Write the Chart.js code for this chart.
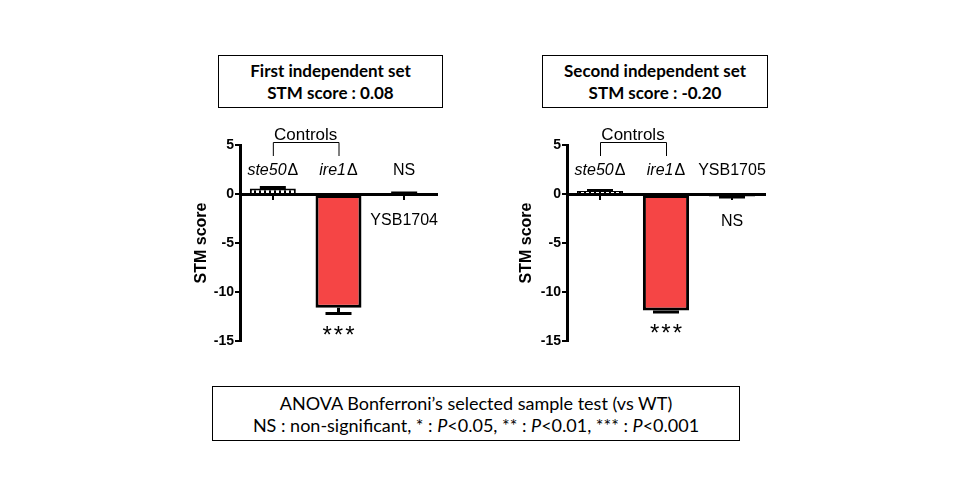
<!DOCTYPE html>
<html lang="en">
<head>
  <meta charset="UTF-8">
  <title>STM score</title>
  <script src="https://cdn.jsdelivr.net/npm/chart.js"></script>
  <style>
    body {
      margin: 0;
      background: #fff;
    }
    .box {
      position: absolute;
      border: 1px solid #000;
      box-sizing: border-box;
      text-align: center;
      font-family: Lato, "Open Sans", sans-serif;
      color: #000;
    }
    .title-box {
      top: 55px;
      height: 53px;
      font-size: 17px;
      font-weight: bold;
      line-height: 22px;
      padding-top: 4px;
    }
    .note-box {
      left: 212px;
      top: 386px;
      width: 528px;
      height: 55px;
      font-size: 18px;
      line-height: 22px;
      padding-top: 5px;
    }
    .chart-wrap {
      position: absolute;
      top: 115px;
      width: 275px;
      height: 245px;
    }
  </style>
</head>
<body>
  <div class="box title-box" style="left:218px; width:225px;">First independent set<br>STM score : 0.08</div>
  <div class="box title-box" style="left:542px; width:226px;">Second independent set<br>STM score : -0.20</div>
  <div class="box note-box">ANOVA Bonferroni’s selected sample test (vs WT)<br>NS : non-significant, * : <i>P</i>&lt;0.05, ** : <i>P</i>&lt;0.01, *** : <i>P</i>&lt;0.001</div>

  <div class="chart-wrap" style="left:185px;"><canvas id="set1Chart" width="275" height="245"></canvas></div>
  <div class="chart-wrap" style="left:510px;"><canvas id="set2Chart" width="275" height="245"></canvas></div>

  <script>
    // values
    const set1Names = ['ste50Δ', 'ire1Δ', 'YSB1704'];
    const set1Values = [0.55, -11.6, 0.05];
    const set1Errors = [0.12, 0.6, 0.05];
    const set1Marks = ['', '***', 'NS'];

    const set2Names = ['ste50Δ', 'ire1Δ', 'YSB1705'];
    const set2Values = [0.3, -11.9, -0.25];
    const set2Errors = [0.05, 0.15, 0.05];
    const set2Marks = ['', '***', 'NS'];

    const controlIdx = [0, 1];
    const yTicks = [-15, -10, -5, 0, 5];

    const FONT = '"Liberation Sans", Arial, sans-serif';

    function dotPattern() {
      const c = document.createElement('canvas');
      c.width = 5; c.height = 5;
      const g = c.getContext('2d');
      g.fillStyle = '#000';
      g.fillRect(0, 0, 5, 5);
      g.fillStyle = '#fff';
      g.fillRect(1, 0, 3, 5);
      return g.createPattern(c, 'repeat');
    }

    // gene names: italic body, upright delta
    function drawName(ctx, name, cx, cy) {
      ctx.textBaseline = 'middle';
      if (!name.endsWith('Δ')) {
        ctx.font = '16px ' + FONT;
        ctx.textAlign = 'center';
        ctx.fillText(name, cx, cy);
        return;
      }
      const body = name.slice(0, -1);
      ctx.font = 'italic 16px ' + FONT;
      const wb = ctx.measureText(body).width;
      ctx.font = '16px ' + FONT;
      const wd = ctx.measureText('Δ').width;
      const x0 = cx - (wb + wd + 1) / 2;
      ctx.textAlign = 'left';
      ctx.font = 'italic 16px ' + FONT;
      ctx.fillText(body, x0, cy);
      ctx.font = '16px ' + FONT;
      ctx.fillText('Δ', x0 + wb + 1, cy);
    }

    // error bars, group labels, significance marks and the controls bracket
    const annotPlugin = {
      id: 'annot',
      afterDraw(chart, args, opts) {
        const ctx = chart.ctx;
        const x = chart.scales.x;
        const y = chart.scales.y;
        const y0 = y.getPixelForValue(0);
        ctx.save();
        ctx.fillStyle = '#000';
        ctx.strokeStyle = '#000';

        opts.values.forEach((v, i) => {
          const cx = x.getPixelForValue(i);
          const dir = v < 0 ? -1 : 1;
          const tip = y.getPixelForValue(v);
          const end = y.getPixelForValue(v + dir * opts.errors[i]);

          // error bar (away from zero only)
          ctx.lineWidth = 3;
          ctx.beginPath();
          ctx.moveTo(cx, tip);
          ctx.lineTo(cx, end);
          ctx.moveTo(cx - 13, end);
          ctx.lineTo(cx + 13, end);
          ctx.stroke();

          const mark = opts.marks[i];
          const markAbove = mark && dir > 0;
          if (mark) {
            ctx.textAlign = 'center';
            if (mark.startsWith('*')) {
              const my = dir < 0 ? end + 15 : end - 15;
              ctx.font = '24px ' + FONT;
              ctx.letterSpacing = '2px';
              ctx.textBaseline = 'alphabetic';
              ctx.fillText(mark, cx + 1, my + 14);
              ctx.letterSpacing = '0px';
            } else {
              const my = markAbove ? Math.min(end - 14, y0 - 23) : Math.max(end + 14, y0 + 28);
              ctx.font = '16px ' + FONT;
              ctx.textBaseline = 'middle';
              ctx.fillText(mark, cx, my);
            }
          }

          const nameY = markAbove ? y0 + 27 : y0 - 23;
          drawName(ctx, opts.names[i], cx, nameY);
        });

        // Controls bracket
        const xa = x.getPixelForValue(controlIdx[0]);
        const xb = x.getPixelForValue(controlIdx[1]);
        ctx.lineWidth = 1;
        ctx.beginPath();
        ctx.moveTo(xa + 0.5, y0 - 38);
        ctx.lineTo(xa + 0.5, y0 - 51.5);
        ctx.lineTo(xb + 0.5, y0 - 51.5);
        ctx.lineTo(xb + 0.5, y0 - 38);
        ctx.stroke();
        ctx.font = '17px ' + FONT;
        ctx.textAlign = 'center';
        ctx.textBaseline = 'middle';
        ctx.fillText('Controls', (xa + xb) / 2, y0 - 59);
        ctx.restore();
      }
    };

    function makeChart(id, names, values, errors, marks, pad) {
      const ctx = document.getElementById(id).getContext('2d');
      return new Chart(ctx, {
        type: 'bar',
        data: {
          labels: names,
          datasets: [{
            data: values,
            backgroundColor: [dotPattern(), '#f54545', '#000'],
            borderColor: '#000',
            borderWidth: [{ top: 2, left: 2, right: 2, bottom: 0 }, 3, 2],
            borderSkipped: false,
            barPercentage: 0.7,
            categoryPercentage: 1
          }]
        },
        options: {
          responsive: false,
          animation: false,
          events: [],
          layout: { padding: pad },
          plugins: {
            legend: { display: false },
            tooltip: { enabled: false },
            annot: { names: names, values: values, errors: errors, marks: marks }
          },
          scales: {
            x: {
              position: { y: 0 },
              z: 1,
              offset: true,
              grid: { offset: false, drawOnChartArea: false, drawTicks: true, tickLength: 4, color: '#000', lineWidth: 2 },
              border: { color: '#000', width: 3 },
              ticks: { display: false }
            },
            y: {
              min: yTicks[0],
              max: yTicks[yTicks.length - 1],
              afterBuildTicks: (scale) => { scale.ticks = yTicks.map(v => ({ value: v })); },
              afterFit: (scale) => { scale.width = pad.axisWidth; },
              grid: { drawOnChartArea: false, tickLength: 5, color: '#000', lineWidth: 2 },
              border: { color: '#000', width: 3 },
              ticks: {
                color: '#000',
                padding: 1,
                font: { family: FONT, size: 14, weight: 'bold' }
              },
              title: {
                display: true,
                text: 'STM score',
                color: '#000',
                padding: 4,
                font: { family: FONT, size: 16, weight: 'bold' }
              }
            }
          }
        },
        plugins: [annotPlugin]
      });
    }

    makeChart('set1Chart', set1Names, set1Values, set1Errors, set1Marks,
      { left: 3, top: 30, right: 23, bottom: 19, axisWidth: 52 });
    makeChart('set2Chart', set2Names, set2Values, set2Errors, set2Marks,
      { left: 3, top: 30, right: 20, bottom: 19, axisWidth: 54 });
  </script>
</body>
</html>
